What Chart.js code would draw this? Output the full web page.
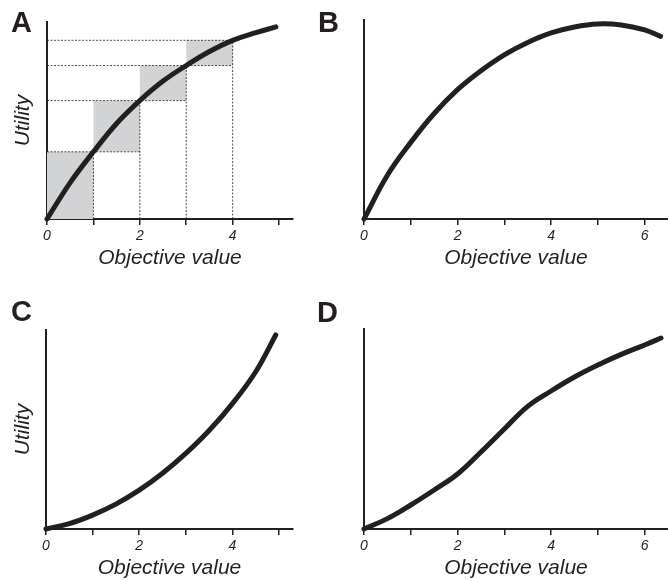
<!DOCTYPE html>
<html lang="en">
<head>
<meta charset="UTF-8">
<title>Utility functions</title>
<script src="https://cdn.jsdelivr.net/npm/chart.js"></script>
<style>
  body {
    margin: 0;
    width: 668px;
    height: 580px;
    overflow: hidden;
    background: #fff;
    position: relative;
    font-family: "Liberation Sans", Arial, sans-serif;
  }
  canvas { position: absolute; }
  .tag {
    position: absolute;
    font-weight: bold;
    font-size: 29px;
    line-height: 29px;
    color: #231f20;
    z-index: 2;
  }
</style>
</head>
<body>
  <canvas id="panelA" width="334" height="290" style="left:0;top:0"></canvas>
  <canvas id="panelB" width="334" height="290" style="left:334px;top:0"></canvas>
  <canvas id="panelC" width="334" height="290" style="left:0;top:291px"></canvas>
  <canvas id="panelD" width="334" height="290" style="left:334px;top:291px"></canvas>
  <div class="tag" style="left:11px;top:8px">A</div>
  <div class="tag" style="left:318px;top:8px">B</div>
  <div class="tag" style="left:11px;top:297px">C</div>
  <div class="tag" style="left:317px;top:298px">D</div>

<script>
  const INK = '#231f20';
  const GREY = '#d1d3d4';
  const FAMILY = '"Liberation Sans", Arial, sans-serif';

  // x values (objective value) and utility
  const xA = [0, 0.5, 1, 1.5, 2, 2.5, 3, 3.5, 4, 4.5, 4.93];
  const uA = [0, 0.185, 0.341, 0.485, 0.601, 0.70, 0.779, 0.85, 0.907, 0.946, 0.975];

  // steps in panel A (grey boxes + dashed guides)
  const stepX = [0, 1, 2, 3, 4];
  const stepU = [0, 0.341, 0.601, 0.779, 0.907];

  const xB = [0, 0.5, 1, 1.5, 2, 2.5, 3, 3.5, 4, 4.5, 5, 5.5, 6, 6.34];
  const uB = [0, 0.22, 0.385, 0.53, 0.65, 0.745, 0.825, 0.887, 0.935, 0.965, 0.98, 0.975, 0.95, 0.918];

  const xC = [0, 0.5, 1, 1.5, 2, 2.5, 3, 3.5, 4, 4.5, 4.93];
  const uC = [0, 0.027, 0.07, 0.125, 0.195, 0.28, 0.38, 0.495, 0.63, 0.79, 0.975];

  const xD = [0, 0.5, 1, 1.5, 2, 2.5, 3, 3.5, 4, 4.5, 5, 5.5, 6, 6.35];
  const uD = [0, 0.052, 0.12, 0.195, 0.275, 0.385, 0.5, 0.613, 0.69, 0.76, 0.82, 0.873, 0.92, 0.955];

  const labeledTicks = [0, 2, 4, 6];

  Chart.defaults.font.family = FAMILY;
  Chart.defaults.color = INK;

  const pts = (xs, ys) => xs.map((x, i) => ({ x: x, y: ys[i] }));

  function curveSet(xs, ys) {
    return {
      data: pts(xs, ys),
      showLine: true,
      borderColor: INK,
      borderWidth: 5,
      borderCapStyle: 'round',
      borderJoinStyle: 'round',
      pointRadius: 0,
      tension: 0.4,
      clip: false,
      order: 0
    };
  }

  // grey boxes and dashed guide lines for panel A
  function stepSets() {
    const sets = [];
    for (let k = 0; k < stepX.length - 1; k++) {
      const x0 = stepX[k], x1 = stepX[k + 1];
      const y0 = stepU[k], y1 = stepU[k + 1];
      sets.push({
        data: [{x: x0, y: y0}, {x: x1, y: y0}, {x: x1, y: y1}, {x: x0, y: y1}, {x: x0, y: y0}],
        showLine: true,
        fill: 'shape',
        backgroundColor: GREY,
        borderWidth: 0,
        borderColor: 'rgba(0,0,0,0)',
        pointRadius: 0,
        order: 2
      });
    }
    const last = stepX[stepX.length - 1];
    for (let k = 1; k < stepX.length; k++) {
      const dash = {
        showLine: true,
        borderColor: INK,
        borderWidth: 0.8,
        borderDash: [2, 1.5],
        pointRadius: 0,
        order: 1
      };
      sets.push(Object.assign({}, dash, {
        data: [{x: 0, y: stepU[k]}, {x: Math.min(stepX[k] + 1, last), y: stepU[k]}]
      }));
      sets.push(Object.assign({}, dash, {
        data: [{x: stepX[k], y: 0}, {x: stepX[k], y: stepU[k]}]
      }));
    }
    return sets;
  }

  function makePanel(id, datasets, cfg) {
    new Chart(document.getElementById(id), {
      type: 'scatter',
      data: { datasets: datasets },
      options: {
        responsive: false,
        animation: false,
        events: [],
        layout: { padding: { top: cfg.top, right: cfg.right, bottom: cfg.bottom, left: 0 } },
        plugins: { legend: { display: false }, tooltip: { enabled: false } },
        scales: {
          x: {
            type: 'linear',
            min: 0,
            max: cfg.xMax,
            ticks: {
              stepSize: 1,
              includeBounds: false,
              autoSkip: false,
              maxRotation: 0,
              padding: 3,
              color: INK,
              font: { size: 14, style: 'italic' },
              callback: v => labeledTicks.includes(v) ? String(v) : ''
            },
            grid: { drawOnChartArea: false, drawTicks: true, tickLength: 6, color: INK, lineWidth: 1.5 },
            border: { color: INK, width: 2 },
            title: {
              display: true,
              text: 'Objective value',
              color: INK,
              font: { size: 21, style: 'italic' },
              padding: 0
            },
            afterFit: s => { s.height = 52; }
          },
          y: {
            type: 'linear',
            min: 0,
            max: 1,
            ticks: { display: false },
            grid: { drawOnChartArea: false, drawTicks: false },
            border: { color: INK, width: 2 },
            title: {
              display: cfg.yTitle,
              text: 'Utility',
              color: INK,
              font: { size: 21, style: 'italic' },
              padding: { top: 11, bottom: 0 }
            },
            afterFit: s => { s.width = cfg.left; }
          }
        }
      }
    });
  }

  makePanel('panelA', [curveSet(xA, uA)].concat(stepSets()),
    { xMax: 5.3, left: 47, top: 22, right: 41, bottom: 19, yTitle: true });
  makePanel('panelB', [curveSet(xB, uB)],
    { xMax: 6.5, left: 30, top: 20, right: 0, bottom: 19, yTitle: false });
  makePanel('panelC', [curveSet(xC, uC)],
    { xMax: 5.3, left: 46, top: 39, right: 41, bottom: 0, yTitle: true });
  makePanel('panelD', [curveSet(xD, uD)],
    { xMax: 6.5, left: 30, top: 38, right: 0, bottom: 0, yTitle: false });
</script>
</body>
</html>
